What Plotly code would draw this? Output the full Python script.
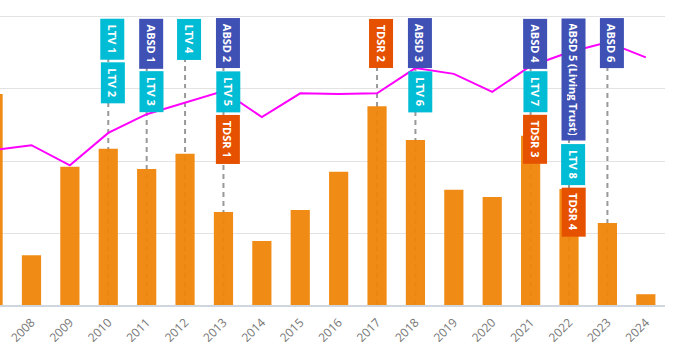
import plotly.graph_objects as go

years = list(range(2007, 2025))
bar_values = [293, 69, 192, 217, 189, 210, 129, 89, 132, 185, 276, 229, 160, 150, 235, 161, 114, 15]
line_values = [215, 222, 194, 239, 265, 281, 297, 261, 294, 293, 294, 329, 321, 296, 332, 351, 365, 344]
tick_years = list(range(2008, 2025))
tick_labels = [str(y) for y in tick_years]

event_years = [2010, 2010, 2011, 2011, 2012, 2013, 2013, 2013, 2017, 2018, 2018,
               2021, 2021, 2021, 2022, 2022, 2022, 2023]
event_labels = ["LTV 1", "LTV 2", "ABSD 1", "LTV 3", "LTV 4", "ABSD 2", "LTV 5", "TDSR 1",
                "TDSR 2", "ABSD 3", "LTV 6", "ABSD 4", "LTV 7", "TDSR 3",
                "ABSD 5 (Living Trust)", "LTV 8", "TDSR 4", "ABSD 6"]
event_kinds = ["LTV", "LTV", "ABSD", "LTV", "LTV", "ABSD", "LTV", "TDSR",
               "TDSR", "ABSD", "LTV", "ABSD", "LTV", "TDSR",
               "ABSD", "LTV", "TDSR", "ABSD"]

kind_colors = {"LTV": "#00BCD4", "ABSD": "#3F51B5", "TDSR": "#E65100"}

FONT_SIZE = 11
CHAR_EM = {" ": 0.26, "(": 0.33, ")": 0.33, "i": 0.28, "l": 0.28, "t": 0.38, "r": 0.4,
           "s": 0.5, "v": 0.55, "n": 0.6, "g": 0.6, "u": 0.6,
           "A": 0.7, "B": 0.68, "S": 0.6, "D": 0.72, "L": 0.6, "T": 0.6, "V": 0.66, "R": 0.66}


def text_len(s):
    return sum(CHAR_EM.get(c, 0.57) for c in s) * FONT_SIZE


PLOT_H = 305
TOP = 18
GAP = 4
PAD = 5

fig = go.Figure()
fig.add_trace(go.Bar(x=years, y=bar_values, width=0.5,
                     marker=dict(color="rgba(239,134,10,0.95)", line=dict(width=0)),
                     showlegend=False, hoverinfo="skip"))
fig.add_trace(go.Scatter(x=years, y=line_values, mode="lines",
                         line=dict(color="#FF00FF", width=2), showlegend=False,
                         hoverinfo="skip"))

shapes = []
annotations = []
stack = {}
for yr, lab, kind in zip(event_years, event_labels, event_kinds):
    if yr not in stack:
        stack[yr] = TOP
        shapes.append(dict(type="line", xref="x", yref="paper", x0=yr, x1=yr,
                           y0=0, y1=(PLOT_H - TOP) / PLOT_H, layer="below",
                           line=dict(color="#999999", width=2, dash="5px,4px")))
    tl = text_len(lab)
    annotations.append(dict(x=yr, y=1, xref="x", yref="paper", xanchor="center",
                            yanchor="top", yshift=-stack[yr], xshift=4.5,
                            text="<b>" + lab + "</b>", showarrow=False, textangle=90,
                            width=tl, height=13, borderpad=PAD, bgcolor=kind_colors[kind],
                            font=dict(color="white", size=FONT_SIZE, family="Open Sans")))
    stack[yr] += tl + 2 * PAD + GAP

fig.update_layout(
    width=674, height=361, autosize=False,
    margin=dict(l=0, r=9, t=0, b=56),
    paper_bgcolor="white", plot_bgcolor="white",
    bargap=0.5, shapes=shapes, annotations=annotations,
    xaxis=dict(range=[2007.18, 2024.5], tickvals=tick_years, ticktext=tick_labels,
               tickangle=-45, tickfont=dict(color="#777777", size=12, family="Open Sans"),
               ticklabelstandoff=4,
               showgrid=False, zeroline=False, showline=True, linecolor="#cfd6df",
               linewidth=1.5, ticks=""),
    yaxis=dict(range=[0, 423.6], dtick=100, showticklabels=False, showgrid=True,
               gridcolor="#e3e3e3", gridwidth=1, zeroline=False),
)

fig.write_html("out.html", config={"displayModeBar": False},
               post_script="document.body.style.margin='0';document.body.style.padding='0';")
